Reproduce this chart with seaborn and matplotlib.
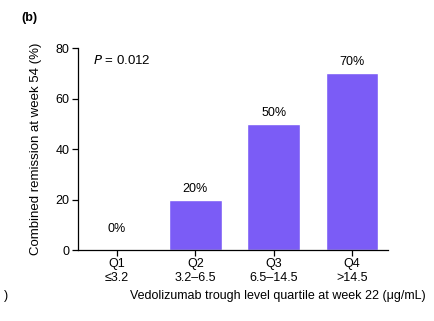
import matplotlib
matplotlib.use("Agg")
import matplotlib.pyplot as plt
import seaborn as sns
import pandas as pd

quartiles = ["Q1\n≤3.2", "Q2\n3.2–6.5", "Q3\n6.5–14.5", "Q4\n>14.5"]
remission = [0, 20, 50, 70]
labels = ["0%", "20%", "50%", "70%"]

df = pd.DataFrame({"quartile": quartiles, "remission": remission})

sns.set_style("ticks")
plt.rcParams["font.family"] = ["Liberation Sans", "DejaVu Sans"]
plt.rcParams["text.color"] = "black"
plt.rcParams["axes.labelcolor"] = "black"
plt.rcParams["xtick.color"] = "black"
plt.rcParams["ytick.color"] = "black"
plt.rcParams["axes.edgecolor"] = "black"

fig = plt.figure(figsize=(4.35, 3.21), dpi=100)
ax = fig.add_axes([0.179, 0.221, 0.713, 0.629])

sns.barplot(data=df, x="quartile", y="remission", color="#7b5cf6",
            saturation=1, width=0.67, ax=ax)

for i, (v, t) in enumerate(zip(remission, labels)):
    ax.text(i, v + (6 if v == 0 else 2), t, ha="center", va="bottom", fontsize=9)

ax.set_xlim(-0.5, 3.46)
ax.set_ylim(0, 80)
ax.set_yticks([0, 20, 40, 60, 80])
ax.tick_params(labelsize=9, length=4, width=0.9, pad=2)
ax.set_xlabel("")
ax.set_ylabel("Combined remission at week 54 (%)", fontsize=9.5, labelpad=10)
for s in ["top", "right"]:
    ax.spines[s].set_visible(False)
for s in ["left", "bottom"]:
    ax.spines[s].set_linewidth(0.9)

ax.text(0.05, 0.97, "$\\it{P}$ = 0.012", transform=ax.transAxes, fontsize=9.5, va="top")
fig.text(0.638, 0.078, "Vedolizumab trough level quartile at week 22 (μg/mL)",
         fontsize=9, ha="center", va="center")
fig.text(0.05, 0.945, "(b)", fontsize=9, fontweight="bold", va="center")
fig.text(0.01, 0.078, ")", fontsize=9, va="center")

fig.savefig("out.png", dpi=100)
